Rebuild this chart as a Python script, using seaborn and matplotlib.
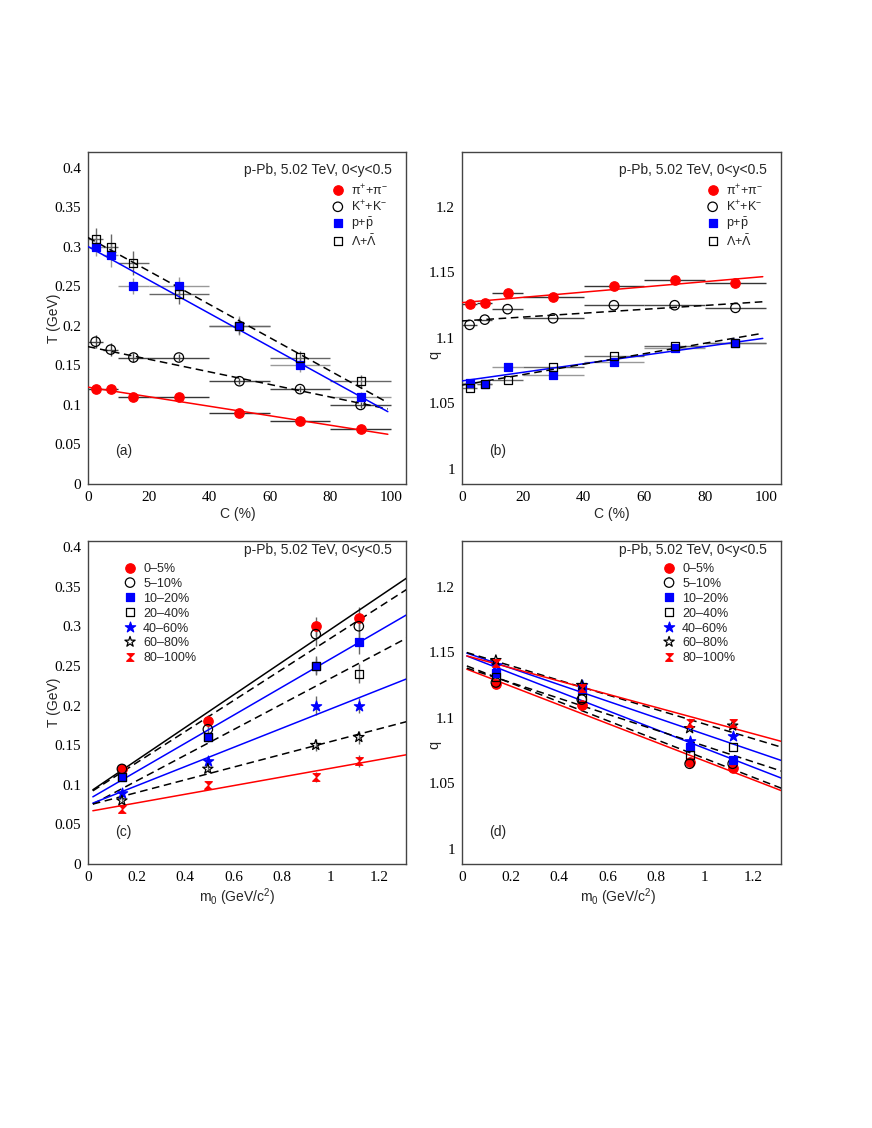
import numpy as np
import matplotlib
matplotlib.use("Agg")
import matplotlib.pyplot as plt
import seaborn as sns
from matplotlib.ticker import FixedLocator, FuncFormatter

# ---------------- data ----------------
centrality_labels = ["0\u20135%", "5\u201310%", "10\u201320%", "20\u201340%", "40\u201360%", "60\u201380%", "80\u2013100%"]
C_mid = [2.5, 7.5, 15, 30, 50, 70, 90]
C_half = [2.5, 2.5, 5, 10, 10, 10, 10]

particle_labels = ["\u03c0$^{+}$+\u03c0$^{-}$", "K$^{+}$+K$^{-}$", r"p+$\bar{\mathrm{p}}$", r"$\Lambda$+$\bar{\Lambda}$"]
m0 = [0.1396, 0.4937, 0.9383, 1.1157]

T_pi = [0.12, 0.12, 0.11, 0.11, 0.09, 0.08, 0.07]
T_K = [0.18, 0.17, 0.16, 0.16, 0.13, 0.12, 0.10]
T_p = [0.30, 0.29, 0.25, 0.25, 0.20, 0.15, 0.11]
T_L = [0.31, 0.30, 0.28, 0.24, 0.20, 0.16, 0.13]

Terr_pi = [0.003, 0.003, 0.003, 0.003, 0.003, 0.003, 0.003]
Terr_K = [0.008, 0.008, 0.006, 0.005, 0.004, 0.004, 0.004]
Terr_p = [0.012, 0.015, 0.010, 0.012, 0.012, 0.008, 0.006]
Terr_L = [0.014, 0.016, 0.015, 0.012, 0.010, 0.008, 0.008]

q_pi = [1.126, 1.127, 1.134, 1.131, 1.140, 1.144, 1.142]
q_K = [1.110, 1.114, 1.122, 1.115, 1.125, 1.125, 1.123]
q_p = [1.066, 1.065, 1.078, 1.072, 1.082, 1.092, 1.096]
q_L = [1.062, 1.065, 1.068, 1.078, 1.086, 1.094, 1.096]

# linear fits vs centrality (intercept, slope)
fitT_C_int = [0.1225, 0.1738, 0.3004, 0.3118]
fitT_C_slope = [-0.000602, -0.000797, -0.00211, -0.00211]
fitq_C_int = [1.127, 1.113, 1.0672, 1.064]
fitq_C_slope = [0.000200, 0.000148, 0.000328, 0.000400]

# linear fits vs m0 (intercept, slope)
fitT_m_int = [0.0895, 0.0884, 0.0812, 0.0724, 0.0744, 0.0740, 0.0661]
fitT_m_slope = [0.2067, 0.1966, 0.1777, 0.1620, 0.1213, 0.0805, 0.0547]
fitq_m_int = [1.1386, 1.1411, 1.1487, 1.1392, 1.1507, 1.1510, 1.1483]
fitq_m_slope = [-0.0715, -0.0720, -0.0719, -0.0606, -0.0632, -0.0557, -0.0503]

# ---------------- style ----------------
sns.set_theme(style="white")
plt.rcParams.update({
    "font.family": ["Liberation Sans", "DejaVu Sans"],
    "mathtext.fontset": "custom",
    "mathtext.rm": "Liberation Sans",
    "mathtext.it": "Liberation Sans:italic",
    "mathtext.bf": "Liberation Sans:bold",
    "axes.edgecolor": "#444444",
    "axes.linewidth": 1.0,
})

RED = "#ff0000"
BLUE = "#0000ff"
bowtie = [(-1, 1), (1, 1), (-1, -1), (1, -1)]

p_styles = [
    dict(marker="o", fc=RED, ec=RED, s=46),
    dict(marker="o", fc="none", ec="black", s=46),
    dict(marker="s", fc=BLUE, ec=BLUE, s=34),
    dict(marker="s", fc="none", ec="black", s=34),
]
p_bar_colors = ["#333333", "#444444", "#999999", "#666666"]
p_fit_styles = [(RED, "-"), ("black", (0, (5, 3))), (BLUE, "-"), ("black", (0, (5, 3)))]

c_styles = [
    dict(marker="o", fc=RED, ec=RED, s=46),
    dict(marker="o", fc="none", ec="black", s=46),
    dict(marker="s", fc=BLUE, ec=BLUE, s=34),
    dict(marker="s", fc="none", ec="black", s=34),
    dict(marker="*", fc=BLUE, ec=BLUE, s=60),
    dict(marker="*", fc="none", ec="black", s=60),
    dict(marker=bowtie, fc=RED, ec=RED, s=30),
]
c_fit_styles_T = [("black", "-"), ("black", (0, (5, 3))), (BLUE, "-"), ("black", (0, (5, 3))),
                  (BLUE, "-"), ("black", (0, (5, 3))), (RED, "-")]
c_fit_styles_q = [(RED, "-"), ("black", (0, (5, 3))), (BLUE, "-"), ("black", (0, (5, 3))),
                  (BLUE, "-"), ("black", (0, (5, 3))), (RED, "-")]

fig = plt.figure(figsize=(8.72, 11.28), dpi=100)
W, H = 872.0, 1128.0
ax_a = fig.add_axes([88 / W, 1 - 484 / H, 318 / W, 332 / H])
ax_b = fig.add_axes([462 / W, 1 - 484 / H, 319 / W, 332 / H])
ax_c = fig.add_axes([88 / W, 1 - 864 / H, 318 / W, 323 / H])
ax_d = fig.add_axes([462 / W, 1 - 864 / H, 319 / W, 323 / H])

serif = "Liberation Serif"
fmt_g = FuncFormatter(lambda v, pos: f"{v:g}")
LEG_FS = 9


def style_axes(ax, xticks, yticks, xlim, ylim):
    ax.set_xlim(*xlim)
    ax.set_ylim(*ylim)
    ax.xaxis.set_major_locator(FixedLocator(xticks))
    ax.yaxis.set_major_locator(FixedLocator(yticks))
    ax.xaxis.set_major_formatter(fmt_g)
    ax.yaxis.set_major_formatter(fmt_g)
    ax.tick_params(axis="both", which="major", direction="in", length=8.5, width=1.0,
                   color="#444444", labelcolor="black", top=False, right=False)
    ax.tick_params(axis="y", pad=5)
    ax.tick_params(axis="x", pad=5)
    for lab in ax.get_xticklabels() + ax.get_yticklabels():
        lab.set_fontfamily(serif)
        lab.set_fontsize(11)
    for sp in ax.spines.values():
        sp.set_visible(True)
        sp.set_color("#444444")
        sp.set_linewidth(1.0)
    ax.grid(False)


def scatter(ax, x, y, st, label):
    sns.scatterplot(x=x, y=y, ax=ax, marker=st["marker"], s=st["s"],
                    facecolor=st["fc"], edgecolor=st["ec"], linewidth=0.9,
                    zorder=5, legend=False)
    h = ax.collections[-1]
    h.set_label(label)
    return h


def fit_line(ax, xs, a, b, color, ls):
    xs = np.asarray(xs, dtype=float)
    sns.lineplot(x=xs, y=a + b * xs, ax=ax, color=color, linestyle=ls,
                 linewidth=1.1, zorder=4, legend=False)


def add_legend(ax, handles, x, y):
    ax.legend(handles=handles, loc="upper left", bbox_to_anchor=(x, y),
              frameon=False, borderpad=0, borderaxespad=0, handlelength=1.0,
              handleheight=1.15, handletextpad=0.54, labelspacing=0.11, fontsize=LEG_FS,
              scatterpoints=1)


# ---------- panels (a), (b): vs centrality ----------
for ax, vals, errs, fint, fslope in [
    (ax_a, [T_pi, T_K, T_p, T_L], [Terr_pi, Terr_K, Terr_p, Terr_L], fitT_C_int, fitT_C_slope),
    (ax_b, [q_pi, q_K, q_p, q_L], None, fitq_C_int, fitq_C_slope),
]:
    handles = []
    for i in range(4):
        ax.errorbar(C_mid, vals[i], xerr=C_half, yerr=(errs[i] if errs else None), fmt="none",
                    ecolor=p_bar_colors[i], elinewidth=1.0, capsize=0, zorder=2)
    for i in range(4):
        fit_line(ax, [0, 99], fint[i], fslope[i], *p_fit_styles[i])
    for i in range(4):
        handles.append(scatter(ax, C_mid, vals[i], p_styles[i], particle_labels[i]))
    add_legend(ax, handles, 0.766, 0.907)

style_axes(ax_a, [0, 20, 40, 60, 80, 100], [0, 0.05, 0.1, 0.15, 0.2, 0.25, 0.3, 0.35, 0.4], (0, 105), (0, 0.42))
style_axes(ax_b, [0, 20, 40, 60, 80, 100], [1, 1.05, 1.1, 1.15, 1.2], (0, 105), (0.9885, 1.242))
for ax, lab in [(ax_a, "(a)"), (ax_b, "(b)")]:
    ax.text(0.955, 0.946, "p-Pb, 5.02 TeV, 0<y<0.5", transform=ax.transAxes,
            ha="right", va="center", fontsize=10)
    ax.text(0.111, 0.098, lab, transform=ax.transAxes, ha="center", va="center", fontsize=10)
ax_a.set_xlabel("C (%)", fontsize=10)
ax_b.set_xlabel("C (%)", fontsize=10)
ax_a.set_ylabel("T (GeV)", fontsize=10)
ax_b.set_ylabel("q", fontsize=10.5)
ax_a.xaxis.set_label_coords(0.47, -0.07)
ax_b.xaxis.set_label_coords(0.47, -0.07)
ax_a.yaxis.set_label_coords(-0.086, 0.5)
ax_b.yaxis.set_label_coords(-0.066, 0.39)

# ---------- panels (c), (d): vs m0 ----------
T_all = np.array([T_pi, T_K, T_p, T_L])
Terr_all = np.array([Terr_pi, Terr_K, Terr_p, Terr_L])
q_all = np.array([q_pi, q_K, q_p, q_L])

for ax, vals, errs, fint, fslope, fstyles, lx in [
    (ax_c, T_all, Terr_all, fitT_m_int, fitT_m_slope, c_fit_styles_T, 0.1125),
    (ax_d, q_all, None, fitq_m_int, fitq_m_slope, c_fit_styles_q, 0.6295),
]:
    handles = []
    for j in range(7):
        if errs is not None:
            ax.errorbar(m0, vals[:, j], yerr=errs[:, j], fmt="none", ecolor="#666666",
                        elinewidth=1.0, capsize=0, zorder=2)
    for j in range(7):
        fit_line(ax, [0.02, 1.32], fint[j], fslope[j], *fstyles[j])
    for j in range(7):
        handles.append(scatter(ax, m0, vals[:, j], c_styles[j], centrality_labels[j]))
    add_legend(ax, handles, lx, 0.935)

style_axes(ax_c, [0, 0.2, 0.4, 0.6, 0.8, 1.0, 1.2], [0, 0.05, 0.1, 0.15, 0.2, 0.25, 0.3, 0.35, 0.4], (0, 1.31), (0, 0.4076))
style_axes(ax_d, [0, 0.2, 0.4, 0.6, 0.8, 1.0, 1.2], [1, 1.05, 1.1, 1.15, 1.2], (0, 1.315), (0.9885, 1.235))
for ax, lab in [(ax_c, "(c)"), (ax_d, "(d)")]:
    ax.text(0.955, 0.972, "p-Pb, 5.02 TeV, 0<y<0.5", transform=ax.transAxes,
            ha="right", va="center", fontsize=10)
    ax.text(0.111, 0.10, lab, transform=ax.transAxes, ha="center", va="center", fontsize=10)
ax_c.set_xlabel("m$_{0}$ (GeV/c$^{2}$)", fontsize=10)
ax_d.set_xlabel("m$_{0}$ (GeV/c$^{2}$)", fontsize=10)
ax_c.set_ylabel("T (GeV)", fontsize=10)
ax_d.set_ylabel("q", fontsize=10.5)
ax_c.xaxis.set_label_coords(0.47, -0.068)
ax_d.xaxis.set_label_coords(0.49, -0.068)
ax_c.yaxis.set_label_coords(-0.086, 0.5)
ax_d.yaxis.set_label_coords(-0.066, 0.37)

fig.savefig("out.png", dpi=100)
